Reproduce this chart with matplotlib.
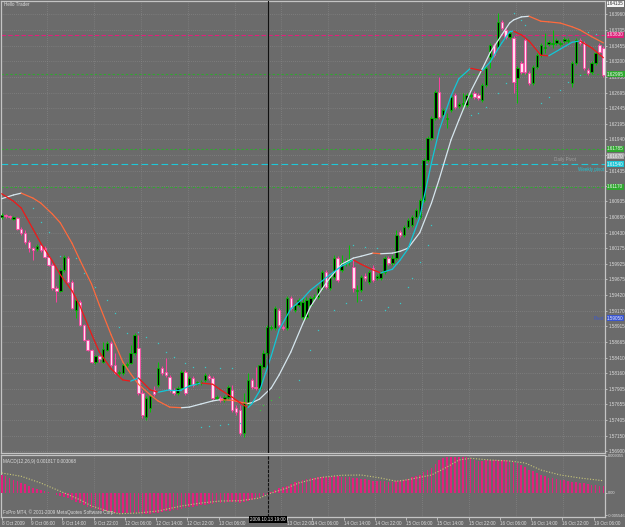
import matplotlib
matplotlib.use('Agg')
import matplotlib.pyplot as plt
from matplotlib.patches import Rectangle
import matplotlib.transforms as mtransforms

plt.rcParams['font.family'] = ['Liberation Sans', 'DejaVu Sans']

# ---------------- data (EURUSD H1) ----------------
opens = [1.6068,1.6072,1.6070,1.6065,1.6067,1.6049,1.6043,1.6028,1.6018,1.6017,
         1.6023,1.6018,1.6004,1.5991,1.5954,1.5949,1.5983,1.6002,1.5963,1.5918,
         1.5931,1.5894,1.5870,1.5853,1.5834,1.5844,1.5834,1.5853,1.5865,1.5829,
         1.5816,1.5816,1.5829,1.5832,1.5849,1.5857,1.5784,1.5745,1.5760,1.5789,
         1.5797,1.5824,1.5818,1.5810,1.5789,1.5784,1.5792,1.5818,1.5797,1.5808,
         1.5798,1.5800,1.5805,1.5811,1.5808,1.5776,1.5776,1.5773,1.5777,1.5789,
         1.5760,1.5756,1.5719,1.5768,1.5805,1.5794,1.5792,1.5826,1.5849,1.5889,
         1.5889,1.5918,1.5891,1.5889,1.5937,1.5918,1.5926,1.5907,1.5907,1.5926,
         1.5937,1.5939,1.5954,1.5979,1.5954,1.5971,1.6002,1.5983,1.5994,1.5997,
         1.5988,1.5949,1.5950,1.5973,1.5963,1.5986,1.5970,1.5970,1.5979,1.6002,
         1.5994,1.6002,1.6044,1.6039,1.6052,1.6056,1.6068,1.6068,1.6096,1.6161,
         1.6196,1.6229,1.6271,1.6233,1.6227,1.6241,1.6266,1.6248,1.6251,1.6250,
         1.6264,1.6269,1.6266,1.6258,1.6282,1.6327,1.6347,1.6343,1.6384,1.6371,
         1.6360,1.6358,1.6293,1.6317,1.6355,1.6301,1.6285,1.6311,1.6330,1.6342,
         1.6348,1.6348,1.6350,1.6348,1.6353,1.6353,1.6285,1.6317,1.6355,1.6350,
         1.6306,1.6303,1.6317,1.6347,1.6342]
highs = [1.6075,1.6073,1.6072,1.6070,1.6068,1.6052,1.6047,1.6031,1.6020,1.6025,
         1.6025,1.6022,1.6007,1.5994,1.5957,1.5986,1.6007,1.6005,1.5967,1.5937,
         1.5934,1.5895,1.5871,1.5855,1.5845,1.5845,1.5866,1.5868,1.5868,1.5849,
         1.5821,1.5832,1.5834,1.5861,1.5881,1.5878,1.5789,1.5779,1.5782,1.5795,
         1.5834,1.5827,1.5840,1.5813,1.5792,1.5795,1.5821,1.5821,1.5811,1.5811,
         1.5803,1.5805,1.5816,1.5815,1.5811,1.5781,1.5779,1.5781,1.5797,1.5797,
         1.5764,1.5764,1.5784,1.5816,1.5808,1.5826,1.5832,1.5853,1.5894,1.5894,
         1.5925,1.5921,1.5894,1.5941,1.5941,1.5929,1.5937,1.5937,1.5939,1.5941,
         1.5944,1.5957,1.5983,1.5983,1.5975,1.6007,1.6005,1.6007,1.6002,1.6023,
         1.5999,1.5958,1.5975,1.5978,1.5983,1.5991,1.5976,1.5981,1.6005,1.6005,
         1.6007,1.6047,1.6047,1.6056,1.6067,1.6072,1.6083,1.6099,1.6164,1.6199,
         1.6232,1.6274,1.6295,1.6245,1.6237,1.6266,1.6269,1.6254,1.6269,1.6269,
         1.6269,1.6272,1.6269,1.6285,1.6313,1.6350,1.6350,1.6398,1.6387,1.6374,
         1.6369,1.6361,1.6313,1.6321,1.6358,1.6305,1.6314,1.6334,1.6350,1.6366,
         1.6355,1.6371,1.6358,1.6353,1.6360,1.6358,1.6321,1.6358,1.6358,1.6353,
         1.6309,1.6321,1.6337,1.6350,1.6345]
lows = [1.6065,1.6067,1.6065,1.6064,1.6047,1.6039,1.6025,1.6012,1.5999,1.6013,
        1.6012,1.6002,1.5989,1.5950,1.5931,1.5947,1.5979,1.5962,1.5920,1.5905,
        1.5892,1.5868,1.5852,1.5832,1.5831,1.5834,1.5832,1.5852,1.5826,1.5815,
        1.5813,1.5813,1.5826,1.5831,1.5845,1.5781,1.5743,1.5740,1.5753,1.5779,
        1.5794,1.5813,1.5810,1.5785,1.5781,1.5781,1.5789,1.5781,1.5794,1.5794,
        1.5797,1.5797,1.5802,1.5805,1.5773,1.5773,1.5769,1.5769,1.5774,1.5753,
        1.5748,1.5716,1.5713,1.5764,1.5790,1.5789,1.5789,1.5823,1.5845,1.5886,
        1.5886,1.5891,1.5886,1.5886,1.5918,1.5915,1.5923,1.5902,1.5903,1.5923,
        1.5934,1.5936,1.5950,1.5952,1.5950,1.5968,1.5963,1.5979,1.5989,1.5991,
        1.5947,1.5931,1.5947,1.5965,1.5960,1.5963,1.5967,1.5967,1.5976,1.5991,
        1.5991,1.5999,1.6036,1.6036,1.6049,1.6052,1.6065,1.6065,1.6093,1.6157,
        1.6193,1.6225,1.6227,1.6230,1.6212,1.6238,1.6243,1.6245,1.6241,1.6246,
        1.6261,1.6259,1.6258,1.6254,1.6279,1.6309,1.6327,1.6340,1.6371,1.6356,
        1.6356,1.6269,1.6253,1.6300,1.6300,1.6282,1.6282,1.6308,1.6327,1.6334,
        1.6345,1.6342,1.6347,1.6345,1.6350,1.6350,1.6279,1.6314,1.6347,1.6306,
        1.6298,1.6300,1.6314,1.6332,1.6295]
closes = [1.6072,1.6070,1.6068,1.6068,1.6049,1.6043,1.6028,1.6018,1.6015,1.6022,
          1.6015,1.6004,1.5991,1.5954,1.5949,1.5983,1.6004,1.5963,1.5921,1.5934,
          1.5894,1.5870,1.5853,1.5834,1.5844,1.5839,1.5855,1.5865,1.5829,1.5816,
          1.5818,1.5829,1.5831,1.5849,1.5878,1.5784,1.5748,1.5776,1.5779,1.5782,
          1.5824,1.5816,1.5813,1.5789,1.5784,1.5792,1.5818,1.5784,1.5808,1.5797,
          1.5802,1.5802,1.5813,1.5808,1.5776,1.5777,1.5773,1.5777,1.5794,1.5756,
          1.5753,1.5719,1.5768,1.5805,1.5794,1.5792,1.5829,1.5849,1.5891,1.5891,
          1.5921,1.5894,1.5889,1.5937,1.5921,1.5926,1.5934,1.5931,1.5934,1.5937,
          1.5939,1.5954,1.5979,1.5955,1.5971,1.6002,1.5967,1.5994,1.5996,1.5999,
          1.5954,1.5950,1.5971,1.5970,1.5979,1.5967,1.5973,1.5978,1.6002,1.5994,
          1.6002,1.6039,1.6039,1.6052,1.6064,1.6068,1.6080,1.6096,1.6161,1.6196,
          1.6229,1.6271,1.6230,1.6241,1.6229,1.6262,1.6246,1.6251,1.6253,1.6266,
          1.6266,1.6262,1.6261,1.6282,1.6309,1.6347,1.6330,1.6384,1.6374,1.6360,
          1.6366,1.6287,1.6309,1.6303,1.6303,1.6285,1.6311,1.6330,1.6347,1.6343,
          1.6351,1.6350,1.6355,1.6350,1.6356,1.6355,1.6317,1.6355,1.6350,1.6309,
          1.6301,1.6317,1.6334,1.6335,1.6298]

# fast smoothed average (cyan rising / red falling)
fast_idx = [0,3,5,8,10,13,15,18,20,23,25,28,31,33,35,38,40,43,46,48,51,54,56,59,61,63,64,66,
            69,71,74,77,79,82,84,87,90,92,95,97,100,102,104,107,110,112,115,117,120,123,125,
            128,130,131,133,135,138,140,143,146,148,151,154]
fast_val = [1.6106,1.6094,1.6083,1.6049,1.6026,1.5997,1.5975,1.5949,1.5925,1.5879,1.5850,
            1.5823,1.5805,1.5803,1.5808,1.5789,1.5785,1.5789,1.5789,1.5795,1.5800,1.5798,
            1.5789,1.5777,1.5768,1.5760,1.5766,1.5787,1.5844,1.5886,1.5920,1.5936,1.5950,
            1.5965,1.5975,1.5989,1.5999,1.5992,1.5983,1.5978,1.5984,1.5999,1.6017,1.6068,
            1.6156,1.6209,1.6264,1.6292,1.6309,1.6305,1.6319,1.6350,1.6368,1.6369,1.6363,
            1.6353,1.6330,1.6329,1.6340,1.6351,1.6353,1.6342,1.6326]
# slow smoothed average (white rising / orange falling)
slow_idx = fast_idx
slow_val = [1.6098,1.6104,1.6107,1.6099,1.6091,1.6073,1.6059,1.6026,1.5999,1.5960,1.5926,
            1.5878,1.5834,1.5815,1.5798,1.5781,1.5771,1.5761,1.5760,1.5761,1.5766,1.5771,
            1.5773,1.5772,1.5769,1.5767,1.5768,1.5774,1.5792,1.5813,1.5850,1.5895,1.5923,
            1.5952,1.5970,1.5992,1.6002,1.6005,1.6010,1.6009,1.6010,1.6013,1.6018,1.6043,
            1.6091,1.6130,1.6193,1.6225,1.6271,1.6308,1.6334,1.6363,1.6382,1.6387,1.6392,
            1.6393,1.6385,1.6384,1.6382,1.6376,1.6371,1.6360,1.6350]

# parabolic SAR dots
sar_idx = [8,10,12,15,19,21,24,27,29,30,32,35,37,40,42,44,47,49,52,56,59,
           51,53,56,58,61,76,79,81,85,88,92,90,93,96,98,99,102,104,105,107,109,110,
           120,122,124,127,129,131,133,134,138,140,143,145,148,150,152]
sar_val = [1.6083,1.6060,1.6044,1.6005,1.6002,1.5978,1.5955,1.5934,1.5913,1.5891,1.5881,
           1.5882,1.5874,1.5865,1.5850,1.5842,1.5832,1.5826,1.5826,1.5824,1.5824,
           1.5729,1.5731,1.5732,1.5734,1.5735,1.5805,1.5853,1.5886,1.5918,1.5930,1.5934,
           1.6023,1.6020,1.6018,1.5918,1.5923,1.5929,1.5955,1.5970,1.5996,1.6023,1.6056,
           1.6233,1.6237,1.6246,1.6269,1.6285,1.6398,1.6387,1.6379,1.6253,1.6262,1.6274,
           1.6287,1.6298,1.6367,1.6364]
sar2_idx = [66,67,69,71]
sar2_val = [1.5756,1.5764,1.5773,1.5777]

# MACD(12,26,9)
macd_hist = [0.00450,0.00425,0.00375,0.00325,0.00288,0.00250,0.00213,0.00175,0.00125,0.00100,
             0.00075,0.00050,0.00025,-0.00010,-0.00050,-0.00075,-0.00100,-0.00125,-0.00175,-0.00213,
             -0.00250,-0.00300,-0.00338,-0.00375,-0.00400,-0.00425,-0.00438,-0.00450,-0.00475,-0.00488,
             -0.00500,-0.00500,-0.00500,-0.00513,-0.00500,-0.00500,-0.00525,-0.00525,-0.00513,-0.00500,
             -0.00488,-0.00475,-0.00450,-0.00438,-0.00425,-0.00413,-0.00400,-0.00375,-0.00350,-0.00338,
             -0.00325,-0.00300,-0.00288,-0.00275,-0.00263,-0.00250,-0.00250,-0.00238,-0.00225,-0.00225,
             -0.00225,-0.00238,-0.00225,-0.00200,-0.00175,-0.00150,-0.00125,-0.00075,-0.00025,0.00025,
             0.00075,0.00113,0.00150,0.00175,0.00225,0.00263,0.00300,0.00325,0.00350,0.00368,
             0.00380,0.00393,0.00400,0.00400,0.00400,0.00413,0.00413,0.00400,0.00400,0.00393,
             0.00375,0.00363,0.00350,0.00338,0.00318,0.00300,0.00300,0.00293,0.00288,0.00268,
             0.00275,0.00288,0.00293,0.00313,0.00350,0.00388,0.00413,0.00450,0.00525,0.00575,
             0.00625,0.00725,0.00825,0.00863,0.00888,0.00900,0.00900,0.00900,0.00900,0.00888,
             0.00875,0.00825,0.00793,0.00800,0.00813,0.00818,0.00825,0.00825,0.00825,0.00813,
             0.00793,0.00763,0.00738,0.00700,0.00650,0.00575,0.00538,0.00500,0.00450,0.00413,
             0.00375,0.00363,0.00350,0.00325,0.00313,0.00293,0.00275,0.00263,0.00250,0.00238,
             0.00225,0.00200,0.00188,0.00175,0.001817]
sig_idx = [0,5,10,15,20,23,27,30,35,40,46,51,56,61,66,69,73,76,80,82,87,92,97,101,104,110,
           114,117,120,125,130,134,138,143,148,154]
sig_val = [0.00500,0.00418,0.00250,0.00043,-0.00168,-0.00325,-0.00450,-0.00518,-0.00500,-0.00450,
           -0.00325,-0.00250,-0.00200,-0.00193,-0.00125,0.00000,0.00125,0.00250,0.00350,0.00393,
           0.00443,0.00450,0.00375,0.00293,0.00333,0.00450,0.00650,0.00825,0.00868,0.00825,
           0.00800,0.00750,0.00575,0.00450,0.00375,0.00307]

price_ticks = [1.63960,1.63705,1.63455,1.63200,1.62950,1.62695,1.62445,1.62195,1.61940,1.61690,
               1.61435,1.61185,1.60935,1.60680,1.60430,1.60175,1.59925,1.59675,1.59420,1.59170,
               1.58915,1.58665,1.58410,1.58160,1.57905,1.57655,1.57405,1.57150,1.56900]
macd_ticks = [0.009355, 0.0, -0.005546]
macd_tick_lbl = ["0.009355", "0.00", "-0.005546"]

time_idx = [-0.3,7,15,23,31,39,47,55,72.6,79,87,95,103,111,119,127,135,143,151]
time_lbl = ["8 Oct 2009","9 Oct 06:00","9 Oct 14:00","9 Oct 22:00","12 Oct 06:00","12 Oct 14:00",
            "12 Oct 22:00","13 Oct 06:00","13 Oct 22:00","14 Oct 06:00","14 Oct 14:00","14 Oct 22:00",
            "15 Oct 06:00","15 Oct 14:00","15 Oct 22:00","16 Oct 06:00","16 Oct 14:00","16 Oct 22:00",
            "19 Oct 06:00"]

# horizontal levels: (price, colour, dash, axis label)
levels = [(1.63630, '#e0207a', (4, 2), "1.63630"),
          (1.62995, '#2fa82f', (2, 2), "1.62995"),
          (1.61785, '#2fa82f', (2, 2), "1.61785"),
          (1.61540, '#1ec8d8', (6, 3), "1.61540"),
          (1.61170, '#2fa82f', (2, 2), "1.61170")]
cursor_idx = 68.2
cursor_lbl = "2009.10.13 19:00"

# ---------------- styling ----------------
BG = '#6b6b6b'
TXT = '#dcdcdc'
GRID = '#8c8c8c'
BULL_EDGE = '#00c400'
BEAR_EDGE = '#ff3fa0'
BEAR_FACE = '#ffe0f0'
FS = 3.3

W, H = 625, 527
fig = plt.figure(figsize=(W / 100, H / 100), dpi=100, facecolor=BG)


def rect(x0, y0, x1, y1):
    return [x0 / W, 1 - y1 / H, (x1 - x0) / W, (y1 - y0) / H]


ax = fig.add_axes(rect(1, 1, 605, 453))
axm = fig.add_axes(rect(1, 455, 605, 517))
XL = (-0.18, 154.42)

for a in (ax, axm):
    a.set_facecolor(BG)
    a.set_xlim(*XL)
    for s in a.spines.values():
        s.set_color('#c4c4c4')
        s.set_linewidth(0.9)

ax.set_ylim(1.56868, 1.64177)
axm.set_ylim(-0.0060, 0.0095)

# grid
for p in price_ticks:
    ax.axhline(p, color=GRID, lw=0.5, ls=(0, (1, 2)), zorder=0)
for k in range(0, 14):
    for a in (ax, axm):
        a.axvline(12 * k - 0.4, color=GRID, lw=0.5, ls=(0, (1, 2)), zorder=0)

tr = mtransforms.blended_transform_factory(ax.transAxes, ax.transData)
BOX_X = 1.0035

# levels
for p, c, d, lab in levels:
    ax.axhline(p, color=c, lw=0.8, ls=(0, d), zorder=1)
    ax.text(BOX_X, p, lab, transform=tr, fontsize=FS, color='#f4f4f4', va='center', ha='left',
            clip_on=False, zorder=20,
            bbox=dict(boxstyle='square,pad=0.12', fc=c, ec='none'))
ax.text(BOX_X, 1.61670, "1.61670", transform=tr, fontsize=FS, color='#f0f0f0', va='center',
        ha='left', clip_on=False, zorder=20,
        bbox=dict(boxstyle='square,pad=0.12', fc='#a8a8a8', ec='none'))
ax.text(BOX_X, 1.59050, "1.59050", transform=tr, fontsize=FS, color='#e8e8ff', va='center',
        ha='left', clip_on=False, zorder=20,
        bbox=dict(boxstyle='square,pad=0.12', fc='#3a56d0', ec='none'))
ax.text(BOX_X, 1.64135, "1.64135", transform=tr, fontsize=FS, color='#303030', va='center',
        ha='left', clip_on=False, zorder=20,
        bbox=dict(boxstyle='square,pad=0.12', fc='#f4f4f4', ec='none'))
ax.text(0.952, 1.61580, "Daily Pivot", transform=tr, fontsize=FS, color='#a0a0a0',
        va='bottom', ha='right')
ax.text(0.998, 1.61500, "Weekly pivot", transform=tr, fontsize=FS, color='#1ec8d8',
        va='top', ha='right')
ax.text(0.998, 1.59050, "Pivot", transform=tr, fontsize=FS, color='#3a56d0',
        va='center', ha='right')

# candles
for i in range(len(opens)):
    o, h, l, c = opens[i], highs[i], lows[i], closes[i]
    bull = c >= o
    ec = BULL_EDGE if bull else BEAR_EDGE
    fc = '#000000' if bull else BEAR_FACE
    ax.vlines(i, l, h, color=ec, lw=0.7, zorder=3)
    bot = min(o, c)
    ht = max(abs(c - o), 0.00006)
    ax.add_patch(Rectangle((i - 0.31, bot), 0.62, ht, fc=fc, ec=ec, lw=0.55, zorder=4))


# smoothed averages coloured by direction
def slope_line(a, xs, ys, up, dn, lw, z):
    for k in range(len(xs) - 1):
        col = up if ys[k + 1] >= ys[k] else dn
        a.plot(xs[k:k + 2], ys[k:k + 2], color=col, lw=lw, solid_capstyle='round', zorder=z)


slope_line(ax, slow_idx, slow_val, '#d6e6ee', '#ff6a3d', 0.9, 5)
slope_line(ax, fast_idx, fast_val, '#10c8d8', '#f01818', 0.9, 6)

# SAR dots
ax.plot(sar_idx, sar_val, ls='none', marker='s', ms=0.9, mew=0, color='#38c8c8', zorder=5)
ax.plot(sar2_idx, sar2_val, ls='none', marker='s', ms=0.9, mew=0, color='#3cc03c', zorder=5)

# cursor line
ax.axvline(cursor_idx, color='#101010', lw=0.8, zorder=7)
axm.axvline(cursor_idx, color='#101010', lw=0.8, ls=(0, (3, 1)), zorder=7)

# axis ticks (right side prices)
ax.yaxis.tick_right()
ax.set_yticks(price_ticks)
ax.set_yticklabels(["%.5f" % p for p in price_ticks])
ax.tick_params(axis='y', labelsize=FS, colors=TXT, length=1.5, width=0.5, pad=1.0)
ax.set_xticks([])

# MACD panel
axm.bar(range(len(macd_hist)), macd_hist, width=0.42, color='#e2207e', zorder=3)
axm.plot(sig_idx, sig_val, color='#c8c878', lw=0.8, ls=(0, (1, 1.5)), zorder=4)
axm.yaxis.tick_right()
axm.set_yticks(macd_ticks)
axm.set_yticklabels(macd_tick_lbl)
axm.tick_params(axis='y', labelsize=2.9, colors=TXT, length=1.2, width=0.5, pad=0.6)
axm.set_xticks([t + 0.5 for t in time_idx])
axm.set_xticklabels(time_lbl)
axm.tick_params(axis='x', labelsize=FS, colors=TXT, length=2, width=0.5, pad=0.8)
for lbl in axm.get_xticklabels():
    lbl.set_ha('left')
axm.text(cursor_idx, -0.0060, cursor_lbl, transform=axm.transData, fontsize=FS, color='#f0f0f0',
         ha='center', va='top', clip_on=False,
         bbox=dict(boxstyle='square,pad=0.3', fc='#000000', ec='none'), zorder=10)

axm.text(0.004, 0.93, "MACD(12,26,9) 0.001817 0.003068", transform=axm.transAxes,
         fontsize=FS, color=TXT, va='top', ha='left')
axm.text(0.004, 0.04, "FxPro MT4, \u00a9 2001-2009 MetaQuotes Software Corp.",
         transform=axm.transAxes, fontsize=FS, color=TXT, va='bottom', ha='left')
ax.text(0.005, 0.997, "Hello Trader", transform=ax.transAxes, fontsize=FS, color=TXT,
        va='top', ha='left')

fig.savefig('out.png', dpi=100, facecolor=BG)
